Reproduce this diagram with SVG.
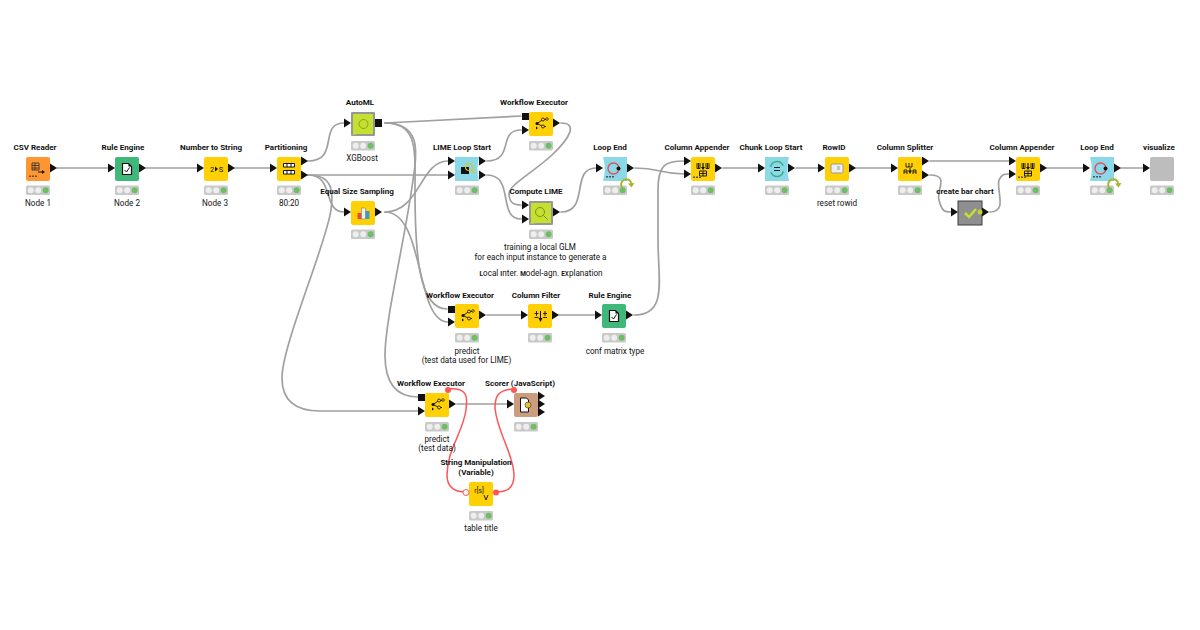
<svg xmlns="http://www.w3.org/2000/svg" width="1200" height="630" viewBox="0 0 1200 630">
<style>
text{font-family:Roboto,"Liberation Sans",sans-serif;font-size:8.15px;fill:#111;text-anchor:middle}
.t{font-weight:700;font-size:8.05px}
.c{fill:none;stroke:#a0a0a0;stroke-width:1.7;stroke-linecap:round}
.r{fill:none;stroke:#f55;stroke-width:1.5}
.k{fill:none;stroke:#111;stroke-width:.9}
.y{fill:#ffd104}.g{fill:#3fb87a}.o{fill:#ff9632}.b{fill:#8ad8e8}
</style>
<defs>
<path id="p" d="M0,-4.500L7,0L0,4.500Z" fill="#111"/>
<rect id="q" x="0" y="-4" width="7" height="8" fill="#111"/>
<g id="s"><rect width="24" height="9.500" rx="1.500" fill="#c9c9c9"/><circle cx="4.700" cy="4.800" r="3" fill="#eee"/><circle cx="12.200" cy="4.800" r="3" fill="#eee"/><circle cx="19.600" cy="4.800" r="3" fill="#6dbf63"/></g>
<g id="ex"><path d="M8,11.500L14,7.500M8,11.500L14,14.500M14,7.500H17M14,14.500H17" class="k" stroke-width=".7"/><circle cx="8" cy="11.500" r="1.500" fill="#111"/><circle cx="14" cy="7.500" r="1.500" fill="#ffd104" stroke="#111" stroke-width=".8"/><circle cx="14" cy="14.500" r="1.500" fill="#ffd104" stroke="#111" stroke-width=".8"/><circle cx="18" cy="7" r="1.300" fill="#ffd104" stroke="#111" stroke-width=".7"/><path d="M7,14.500l2,1.500l-2,1.500z" fill="#111"/></g>
<g id="re"><path d="M7.500,6.500h6l3,3v8h-9z" fill="#fff" stroke="#111" stroke-width="1.200"/><path d="M9.500,13l2,2l3,-4.500" fill="none" stroke="#111"/><path d="M13.500,6.500v3h3z" fill="#111"/></g>
<g id="ap"><path d="M6,6v5.500h3v-5.500M7.500,6v5.500M15,6v5.500h3v-5.500M16.500,6v5.500" class="k"/><path d="M12,6v5" stroke="#111" stroke-width="1.200"/><path d="M10,10L12,13L14,10Z" fill="#111"/><path d="M8.500,14h7v5h-7zM8.500,16.500h7M12,14v5" class="k"/><g fill="#555"><rect x="2" y="19.500" width="2" height="1.500"/><rect x="5" y="19.500" width="2" height="1.500"/><rect x="8" y="19.500" width="2" height="1.500"/></g></g>
<g id="le"><circle cx="10.500" cy="11.500" r="5.500" fill="none" stroke="#e2505c" stroke-width="1.400"/><circle cx="15.500" cy="11.500" r="2" fill="#111"/><g fill="#555"><rect x="3" y="19" width="2" height="1.500"/><rect x="6" y="19" width="2" height="1.500"/><rect x="9" y="19" width="2" height="1.500"/></g></g>
<g id="lp"><path d="M19.500,31A5.200,5.200 0 1 1 28.500,27.500" fill="none" stroke="#a8b62c" stroke-width="2"/><path d="M25,26.500l3.500,4l3,-4.500z" fill="#a8b62c"/></g>
</defs>

<g id="connectors">
<path class="c" d="M57,168H108M146,168H197M235,168H270M308,175H448M723,168H758M796,168H818M856,168H891M930,161H1009M1047,168H1083M1121,168H1143M487,315H521M559,315H595M457,404H507"/>
<path class="c" d="M308,161C340,161 318,123 344,123"/>
<path class="c" d="M308,175C335,175 322,212 344,212"/>
<path class="c" d="M308,175C335,175 333,195 331,210C326,245 282,345 282,378C282,400 295,411 320,411H418"/>
<path class="c" d="M385,123L521,116"/>
<path class="c" d="M385,123C418,123 415,150 415,190C415,250 418,309 447,309"/>
<path class="c" d="M385,123C420,123 418,150 413,180C405,240 385,320 385,355C385,385 397,397 418,397"/>
<path class="c" d="M385,212C420,212 420,161 448,161"/>
<path class="c" d="M385,212C425,212 415,322 448,322"/>
<path class="c" d="M487,161C515,161 497,130 521,130"/>
<path class="c" d="M487,175C515,175 497,219 521,219"/>
<path class="c" d="M561,123C578,123 570,138 552,155C530,175 508,185 509,195C510,204 515,205 521,205"/>
<path class="c" d="M561,212C590,212 570,168 596,168"/>
<path class="c" d="M635,168C660,168 660,174 684,174"/>
<path class="c" d="M634,315C668,315 658,280 658,240V190C658,165 665,161 684,161"/>
<path class="c" d="M930,175C950,175 936,190 939,200C942,212 945,212 951,212"/>
<path class="c" d="M990,212C1008,212 996,190 999,180C1002,174 1004,174 1009,174"/>
<path class="r" d="M448,389C470,387 467,400 466,410C463,432 447,450 447,475C447,490 458,492 466,492"/>
<path class="r" d="M514,389C497,389 495,398 495,408C497,432 514,455 514,475C514,490 505,492 496,492"/>
</g>

<g id="csv-reader"><text class="t" x="35" y="150">CSV Reader</text><rect class="o" x="26" y="157" width="24" height="24" rx="2"/><path d="M32,163h7v7h-7zM32,165.500h7M32,168h7M35,163v7" fill="none" stroke="#333" stroke-width=".9"/><path d="M38,172h5" stroke="#111"/><path d="M42,170l3,2l-3,2z" fill="#111"/><g fill="#555"><rect x="29" y="175.500" width="2" height="1.500"/><rect x="32" y="175.500" width="2" height="1.500"/><rect x="35" y="175.500" width="2" height="1.500"/></g><use href="#p" x="50" y="168"/><use href="#s" x="26" y="185.500"/><text x="38" y="206">Node 1</text></g>

<g id="rule-engine-1"><text class="t" x="123" y="150">Rule Engine</text><rect class="g" x="115" y="157" width="24" height="24" rx="2"/><use href="#re" x="115" y="157"/><use href="#p" x="108" y="168"/><use href="#p" x="139" y="168"/><use href="#s" x="115" y="185.500"/><text x="127" y="206">Node 2</text></g>

<g id="number-to-string"><text class="t" x="211" y="150">Number to String</text><rect class="y" x="204" y="157" width="24" height="24" rx="2"/><text x="212" y="172" style="font-size:7.500px">2</text><path d="M215,166.500l3,2.500l-3,2.500z" fill="#111"/><text x="221" y="172" style="font-size:7.500px">S</text><use href="#p" x="197" y="168"/><use href="#p" x="228" y="168"/><use href="#s" x="204" y="185.500"/><text x="215" y="206">Node 3</text></g>

<g id="partitioning"><text class="t" x="286" y="150">Partitioning</text><rect class="y" x="277" y="157" width="24" height="24" rx="2"/><path d="M283.500,163.500h11v3.500h-11zM283.500,170.500h11v3.500h-11zM287,163.500v3.500M291,163.500v3.500M287,170.500v3.500M291,170.500v3.500" fill="#fff" stroke="#111"/><use href="#p" x="270" y="168"/><use href="#p" x="301" y="161"/><use href="#p" x="301" y="175"/><use href="#s" x="277" y="185.500"/><text x="289" y="206">80:20</text></g>

<g id="automl"><text class="t" x="360" y="105">AutoML</text><rect x="351" y="112" width="24" height="24" rx="1" fill="#979797"/><rect x="353" y="114" width="20" height="20" fill="#c6e02f"/><circle cx="363.500" cy="124" r="4.500" fill="none" stroke="#7c9020" stroke-width=".8"/><path d="M352,135l6,-6v5z" fill="#c6e02f"/><use href="#p" x="344" y="123"/><use href="#q" x="375" y="123"/><use href="#s" x="351" y="141"/><text x="362" y="161">XGBoost</text></g>

<g id="equal-size-sampling"><text class="t" x="357" y="194">Equal Size Sampling</text><rect class="y" x="351" y="201" width="24" height="24" rx="2"/><rect x="357.500" y="213" width="4" height="6" fill="#e4484c"/><rect x="361.500" y="208" width="4" height="11" fill="#eee" stroke="#555" stroke-width=".4"/><rect x="365.500" y="211" width="4" height="8" fill="#3a9bc4"/><use href="#p" x="344" y="212"/><use href="#p" x="375" y="212"/><use href="#s" x="351" y="229.500"/></g>

<g id="lime-loop-start"><text class="t" x="462" y="150">LIME Loop Start</text><path class="b" d="M455,157H479Q476,169 479,181H455Z"/><rect x="461" y="167" width="8" height="7" fill="#111"/><circle cx="469" cy="167" r="3.500" fill="none" stroke="#e5c417" stroke-width="1.200"/><path d="M471.500,170l3,3" stroke="#e5c417" stroke-width="1.200"/><use href="#p" x="448" y="161"/><use href="#p" x="448" y="175"/><use href="#p" x="479" y="161"/><use href="#p" x="479" y="175"/><use href="#s" x="455" y="185.500"/></g>

<g id="workflow-executor-top"><text class="t" x="534" y="105">Workflow Executor</text><rect class="y" x="529" y="112" width="24" height="24" rx="2"/><use href="#ex" x="529" y="112"/><rect x="522" y="113" width="7" height="7" fill="#111"/><use href="#p" x="522" y="130"/><use href="#p" x="553" y="123"/><use href="#s" x="529" y="141"/></g>

<g id="compute-lime"><text class="t" x="536" y="194">Compute LIME</text><rect x="529" y="201" width="24" height="24" rx="1" fill="#979797"/><rect x="531" y="203" width="20" height="20" fill="#c6e02f"/><circle cx="540" cy="212" r="4.500" fill="none" stroke="#7c9020"/><path d="M543.500,215.500l4,4" stroke="#7c9020"/><path d="M530,224l6,-6v5z" fill="#c6e02f"/><use href="#p" x="522" y="205"/><use href="#p" x="522" y="219"/><use href="#p" x="553" y="212"/><use href="#s" x="529" y="229.500"/><text x="540" y="250">training a local GLM</text><text x="540.500" y="259.500">for each input instance to generate a</text><text x="541" y="276"><tspan class="t" style="font-size:6.500px">L</tspan>ocal <tspan class="t" style="font-size:6.500px">I</tspan>nter. <tspan class="t" style="font-size:6.500px">M</tspan>odel-agn. <tspan class="t" style="font-size:6.500px">E</tspan>xplanation</text></g>

<g id="loop-end-1"><text class="t" x="610" y="150">Loop End</text><path class="b" d="M603,157H627V181H603Q606.500,169 603,157Z"/><use href="#le" x="603" y="157"/><use href="#p" x="596" y="168"/><use href="#p" x="627" y="168"/><use href="#s" x="603" y="185.500"/><use href="#lp" x="603" y="157"/></g>

<g id="column-appender-1"><text class="t" x="697" y="150">Column Appender</text><rect class="y" x="691" y="157" width="24" height="24" rx="2"/><use href="#ap" x="691" y="157"/><use href="#p" x="684" y="161"/><use href="#p" x="684" y="174"/><use href="#p" x="715" y="168"/><use href="#s" x="691" y="185.500"/></g>

<g id="chunk-loop-start"><text class="t" x="771" y="150">Chunk Loop Start</text><path class="b" d="M765,157H789Q786,169 789,181H765Z"/><path d="M771,167A6,5 0 0 1 783,166M783,171A6,5 0 0 1 771,172" fill="none" stroke="#3fae84" stroke-width="1.500"/><path d="M774,167.500h6M774,170.500h6" stroke="#222"/><use href="#p" x="758" y="168"/><use href="#p" x="788" y="168"/><use href="#s" x="765" y="185.500"/></g>

<g id="rowid"><text class="t" x="834" y="150">RowID</text><rect class="y" x="825" y="157" width="24" height="24" rx="2"/><rect x="831" y="164" width="12" height="9" rx="1.500" fill="#eee" stroke="#999"/><path d="M837,167h3M837,169h3" stroke="#999"/><use href="#p" x="818" y="168"/><use href="#p" x="849" y="168"/><use href="#s" x="825" y="185.500"/><text x="837" y="206">reset rowid</text></g>

<g id="column-splitter"><text class="t" x="905" y="150">Column Splitter</text><rect class="y" x="898" y="157" width="24" height="24" rx="2"/><path d="M906,163v4h6v-4M909,163v4M904,174v-4h3v4M913,174v-4h3v4M904,172h3M913,172h3" class="k"/><path d="M910,168v3" stroke="#111"/><path d="M908,170.500h4l-2,3.500z" fill="#111"/><use href="#p" x="891" y="168"/><use href="#p" x="922" y="161"/><use href="#p" x="922" y="175"/><use href="#s" x="898" y="185.500"/></g>

<g id="create-bar-chart"><text class="t" x="965" y="194">create bar chart</text><rect x="958" y="201" width="24" height="24" fill="#8f8f8f" stroke="#3c3c3c"/><path d="M965,213l4,4l7,-8" fill="none" stroke="#c6e02f" stroke-width="2.500"/><use href="#p" x="951" y="212"/><path d="M982,207.500l7,4.500l-7,4.500z" fill="#111"/><circle cx="980" cy="212" r="2.500" fill="#c6d12f"/></g>

<g id="column-appender-2"><text class="t" x="1022" y="150">Column Appender</text><rect class="y" x="1016" y="157" width="24" height="24" rx="2"/><use href="#ap" x="1016" y="157"/><use href="#p" x="1009" y="161"/><use href="#p" x="1009" y="174"/><use href="#p" x="1040" y="168"/><use href="#s" x="1016" y="185.500"/></g>

<g id="loop-end-2"><text class="t" x="1097" y="150">Loop End</text><path class="b" d="M1090,157H1114V181H1090Q1093.500,169 1090,157Z"/><use href="#le" x="1090" y="157"/><use href="#p" x="1083" y="168"/><use href="#p" x="1114" y="168"/><use href="#s" x="1090" y="185.500"/><use href="#lp" x="1090" y="157"/></g>

<g id="visualize"><text class="t" x="1159" y="150">visualize</text><rect x="1150" y="157" width="24" height="24" rx="2" fill="#bdbdbd"/><use href="#p" x="1143" y="168"/><use href="#s" x="1150" y="185.500"/></g>

<g id="workflow-executor-mid"><text class="t" x="460" y="298">Workflow Executor</text><rect class="y" x="455" y="304" width="24" height="24" rx="2"/><use href="#ex" x="455" y="304"/><rect x="448" y="306" width="7" height="7" fill="#111"/><use href="#p" x="448" y="322"/><use href="#p" x="479" y="315"/><use href="#s" x="455" y="333"/><text x="467" y="354">predict</text><text x="466.500" y="363">(test data used for LIME)</text></g>

<g id="column-filter"><text class="t" x="536" y="298">Column Filter</text><rect class="y" x="528" y="304" width="24" height="24" rx="2"/><path d="M536.500,311v5M534.500,313.500h4M534.500,317.500h4M545,311v5M543,313.500h4M543,317.500h4" class="k"/><path d="M540.500,311v8" stroke="#111"/><path d="M538.500,318h4l-2,4z" fill="#111"/><use href="#p" x="521" y="315"/><use href="#p" x="552" y="315"/><use href="#s" x="528" y="333"/></g>

<g id="rule-engine-2"><text class="t" x="610" y="298">Rule Engine</text><rect class="g" x="602" y="304" width="24" height="24" rx="2"/><use href="#re" x="602" y="304"/><use href="#p" x="595" y="315"/><use href="#p" x="626" y="315"/><use href="#s" x="602" y="333"/><text x="615" y="354">conf matrix type</text></g>

<g id="workflow-executor-bot"><text class="t" x="431" y="386">Workflow Executor</text><rect class="y" x="425" y="393" width="24" height="24" rx="2"/><use href="#ex" x="425" y="393"/><rect x="418" y="394" width="7" height="7" fill="#111"/><use href="#p" x="418" y="411"/><use href="#p" x="449" y="404"/><circle cx="448" cy="390" r="3" fill="#f55"/><use href="#s" x="425" y="422"/><text x="437" y="442">predict</text><text x="437" y="451">(test data)</text></g>

<g id="scorer"><text class="t" x="520" y="386">Scorer (JavaScript)</text><rect x="514" y="393" width="24" height="24" rx="2" fill="#cb9c7e"/><path d="M520.500,398h6l2,2v12h-8z" fill="#fff" stroke="#111"/><circle cx="528" cy="405" r="3" fill="#e8c020" stroke="#333" stroke-width=".6"/><use href="#p" x="507" y="404"/><use href="#p" x="538" y="396"/><use href="#p" x="538" y="404"/><use href="#p" x="538" y="412"/><circle cx="514" cy="390" r="3" fill="#f55"/><use href="#s" x="514" y="422"/></g>

<g id="string-manipulation"><text class="t" x="476" y="465">String Manipulation</text><text class="t" x="476" y="474.500">(Variable)</text><rect class="y" x="469" y="482" width="24" height="24" rx="2"/><text x="479" y="493" style="font-size:7px">r[s]</text><path d="M484,495l2,5l2,-5" class="k"/><circle cx="466" cy="492.500" r="3" fill="#fff" stroke="#f55"/><circle cx="496" cy="492.500" r="3" fill="#f55"/><use href="#s" x="469" y="511"/><text x="481" y="531">table title</text></g>
</svg>
